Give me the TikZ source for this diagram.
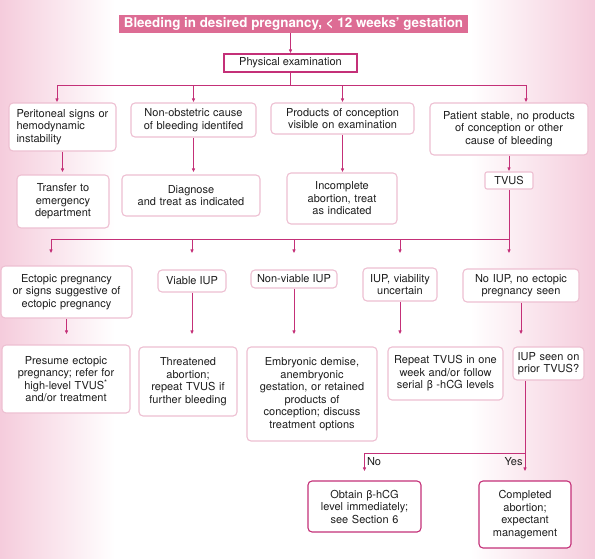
\documentclass[tikz,border=0pt]{standalone}
\usepackage{fontspec}
\setmainfont{TeX Gyre Heros}
\usetikzlibrary{arrows.meta}
\definecolor{flowline}{RGB}{196,48,120}
\definecolor{titlepink}{RGB}{221,108,148}
\definecolor{softedge}{RGB}{238,192,210}
\definecolor{bgpink}{RGB}{245,204,220}
\definecolor{ink}{RGB}{30,30,30}

\begin{document}
\begin{tikzpicture}[
  x=1pt, y=-1pt,
  font=\fontsize{11}{12.5}\selectfont, text=ink,
  box/.style={draw=softedge, fill=white, line width=1.1pt, rounded corners=4pt,
    align=center, inner sep=1pt},
  firmbox/.style={box, draw=flowline},
  flow/.style={draw=flowline, line width=1pt},
  arr/.style={flow, -{Latex[length=4pt,width=3.5pt]}},
]
  % page and pink edges
  \useasboundingbox (0,0) rectangle (595,558);
  \fill[white] (0,0) rectangle (595,558);
  \shade[left color=bgpink, right color=white] (0,0) rectangle (115,558);
  \shade[left color=white, right color=bgpink] (470,0) rectangle (595,558);

  \node[fill=titlepink, text=white, font=\fontsize{13.4}{15}\selectfont\bfseries,
    minimum width=349pt, minimum height=18pt, inner sep=0pt] (title) at (293.5,24)
    {Bleeding in desired pregnancy, < 12 weeks' gestation};
  \node[firmbox, rounded corners=0pt, minimum width=133pt, minimum height=18pt] (exam) at (290.5,63)
    {Physical examination};

  % first row
  \node[box, align=left, text width=92pt, minimum width=107pt, minimum height=48pt] (periton) at (62.5,127)
    {Peritoneal signs or\\ hemodynamic\\ instability};
  \node[box, text width=121pt, minimum width=125pt, minimum height=34pt] (nonobst) at (193.5,120)
    {Non-obstetric cause\\ of bleeding identifed};
  \node[box, text width=139pt, minimum width=143pt, minimum height=31pt] (visible) at (342.5,118.5)
    {Products of conception\\ visible on examination};
  \node[box, text width=154pt, minimum width=158pt, minimum height=52pt] (stable) at (509,129)
    {Patient stable, no products\\ of conception or other\\ cause of bleeding};

  % second row
  \node[box, text width=88pt, minimum width=92pt, minimum height=53pt] (transfer) at (63,201.5)
    {Transfer to\\ emergency\\ department};
  \node[box, text width=134pt, minimum width=138pt, minimum height=41pt] (diagnose) at (191,195.5)
    {Diagnose\\ and treat as indicated};
  \node[box, text width=106pt, minimum width=110pt, minimum height=51pt] (incomplete) at (342,198.5)
    {Incomplete\\ abortion, treat\\ as indicated};
  \node[box, rounded corners=2pt, minimum width=48pt, minimum height=17pt] (tvus) at (509,180.5)
    {TVUS};

  % third row
  \node[box, text width=127pt, minimum width=131pt, minimum height=52pt] (ectopic) at (66.5,292)
    {Ectopic pregnancy\\ or signs suggestive of\\ ectopic pregnancy};
  \node[box, minimum width=68pt, minimum height=22pt] (viable) at (192,281)
    {Viable IUP};
  \node[box, minimum width=86pt, minimum height=18pt] (nonviable) at (294,279)
    {Non-viable IUP};
  \node[box, text width=70pt, minimum width=74pt, minimum height=33pt] (uncertain) at (400,284.5)
    {IUP, viability\\ uncertain};
  \node[box, text width=112pt, minimum width=116pt, minimum height=33pt] (noiup) at (521,285.5)
    {No IUP, no ectopic\\ pregnancy seen};

  % fourth row
  \node[box, text width=124pt, minimum width=128pt, minimum height=68pt] (presume) at (66,379)
    {Presume ectopic\\ pregnancy; refer for\\ high-level TVUS\textsuperscript{*}\\ and/or treatment};
  \node[box, text width=94pt, minimum width=98pt, minimum height=69pt] (threatened) at (188,381.5)
    {Threatened\\ abortion;\\ repeat TVUS if\\ further bleeding};
  \node[box, text width=126pt, minimum width=130pt, minimum height=94pt] (demise) at (312,394)
    {Embryonic demise,\\ anembryonic\\ gestation, or retained\\ products of\\ conception; discuss\\ treatment options};
  \node[box, text width=111pt, minimum width=115pt, minimum height=53pt] (repeat) at (445.5,373.5)
    {Repeat TVUS in one\\ week and/or follow\\ serial β -hCG levels};
  \node[box, text width=67pt, minimum width=71pt, minimum height=33pt] (priorseen) at (548.5,363.5)
    {IUP seen on\\ prior TVUS?};

  % last row
  \node[firmbox, text width=109pt, minimum width=113pt, minimum height=51pt] (obtain) at (364.5,506.5)
    {Obtain β-hCG\\ level immediately;\\ see Section 6};
  \node[firmbox, text width=88pt, minimum width=92pt, minimum height=67pt] (completed) at (525,514.5)
    {Completed\\ abortion;\\ expectant\\ management};

  % connectors, top part
  \coordinate (busAwest) at (57,85);
  \coordinate (busAeast) at (526,85);
  \draw[arr] (exam.north |- title.south) -- (exam.north);
  \draw[flow] (exam.south) -- (exam.south |- busAwest);
  \draw[flow] (busAwest) -- (busAeast);
  \draw[arr] (busAwest) -- (busAwest |- periton.north);
  \draw[arr] (nonobst.north |- busAwest) -- (nonobst.north);
  \draw[arr] (visible.north |- busAwest) -- (visible.north);
  \draw[arr] (busAeast) -- (busAeast |- stable.north);
  \draw[arr, shorten >=2pt] (periton.south) -- (periton.south |- transfer.north);
  \draw[arr, shorten >=2pt] (nonobst.south) -- (nonobst.south |- diagnose.north);
  \draw[arr] (visible.south) -- (visible.south |- incomplete.north);
  \draw[arr] (stable.south) -- (tvus.north);

  % connectors, TVUS results
  \coordinate (busBwest) at (51,239);
  \draw[flow] (tvus.south) -- (tvus.south |- busBwest) -- (busBwest);
  \draw[arr, shorten >=12pt] (busBwest) -- (busBwest |- ectopic.north);
  \draw[arr, shorten >=16pt] (viable.north |- busBwest) -- (viable.north);
  \draw[arr, shorten >=16pt] (nonviable.north |- busBwest) -- (nonviable.north);
  \draw[arr, shorten >=14pt] (uncertain.north |- busBwest) -- (uncertain.north);
  \draw[arr, shorten >=15pt] (tvus.south |- busBwest) -- (tvus.south |- noiup.north);
  \draw[arr, shorten >=10pt] (ectopic.south) -- (ectopic.south |- presume.north);
  \draw[arr, shorten >=12pt] (viable.south) -- (viable.south |- threatened.north);
  \draw[arr, shorten >=12pt] (nonviable.south) -- (nonviable.south |- demise.north);
  \draw[arr, shorten >=12pt] (uncertain.south) -- (uncertain.south |- repeat.north);
  \draw[arr, shorten >=12pt] (noiup.south) -- (noiup.south |- priorseen.north);

  % connectors, prior TVUS
  \coordinate (busC) at (444,453);
  \draw[flow] (completed.north |- priorseen.south) -- (completed.north |- busC) -- (obtain.north |- busC);
  \draw[arr, shorten >=9pt] (obtain.north |- busC) -- node[right, pos=0.32, inner sep=2pt] {No} (obtain.north);
  \draw[arr, shorten >=9pt] (completed.north |- busC) -- node[left, pos=0.32, inner sep=2pt] {Yes} (completed.north);
\end{tikzpicture}
\end{document}
